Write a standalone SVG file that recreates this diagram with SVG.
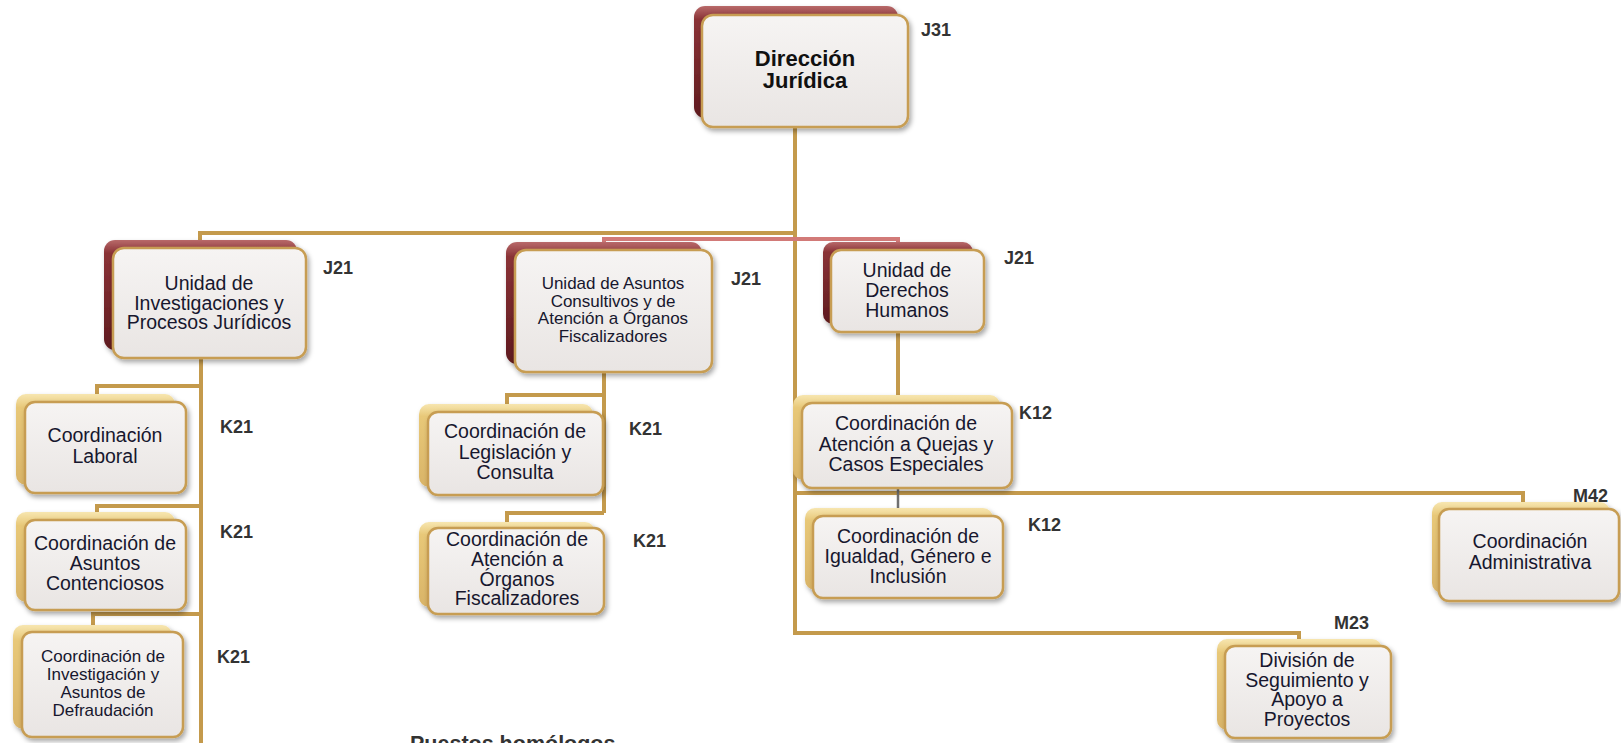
<svg xmlns="http://www.w3.org/2000/svg" width="1621" height="743" viewBox="0 0 1621 743">
<defs>
<linearGradient id="gFront" x1="0" y1="0" x2="0" y2="1">
<stop offset="0" stop-color="#f6f4f3"/>
<stop offset="1" stop-color="#e9e5e3"/>
</linearGradient>
<linearGradient id="gRed" x1="0" y1="0" x2="0" y2="1">
<stop offset="0" stop-color="#b86a6a"/>
<stop offset="0.12" stop-color="#8a3236"/>
<stop offset="1" stop-color="#5e1a1e"/>
</linearGradient>
<linearGradient id="gGold" x1="0" y1="0" x2="0" y2="1">
<stop offset="0" stop-color="#f7e6b0"/>
<stop offset="0.15" stop-color="#e8c878"/>
<stop offset="1" stop-color="#d9b468"/>
</linearGradient>
<filter id="sh" x="-10%" y="-10%" width="125%" height="130%">
<feDropShadow dx="2" dy="3" stdDeviation="2.5" flood-color="#000" flood-opacity="0.35"/>
</filter>
</defs>
<style>
.front{fill:url(#gFront);stroke:#c79d52;stroke-width:2.5}
.backJ{fill:url(#gRed)}
.backK{fill:url(#gGold)}
.t{font-family:"Liberation Sans",Arial,sans-serif;font-size:19.5px;fill:#17172e;text-anchor:middle}
.ts{font-size:17px}
.tb{font-family:"Liberation Sans",Arial,sans-serif;font-size:22px;font-weight:bold;fill:#111;text-anchor:middle}
.lbl{font-family:"Liberation Sans",Arial,sans-serif;font-size:18px;font-weight:bold;fill:#333}
.c{fill:none;stroke:#c49a4c;stroke-width:4}
.cp{fill:none;stroke:#d27a78;stroke-width:4}
.cg{fill:none;stroke:#707070;stroke-width:2.5}
</style>
<g id="connectors">
<path class="c" d="M795,127 V633 H1299 V646"/>
<path class="cp" d="M604,250 V239 H898 V250"/>
<path class="c" d="M200,242 V233 H795"/>
<path class="c" d="M201,358 V743"/>
<path class="c" d="M201,386 H97 V402"/>
<path class="c" d="M201,506 H97 V520"/>
<path class="c" d="M201,614 H93 V632"/>
<path class="c" d="M604,372 V513"/>
<path class="c" d="M604,395 H507 V412"/>
<path class="c" d="M604,513 H507 V528"/>
<path class="c" d="M898,332 V403"/>
<path class="c" d="M797,493 H1523 V509"/>
<path class="cg" d="M898,488 V516"/>
</g>
<g id="direccion-juridica">
<rect class="backJ" x="694" y="6" width="204" height="112" rx="11" filter="url(#sh)"/>
<rect class="front" x="702" y="15" width="206" height="112" rx="11" filter="url(#sh)"/>
<text class="tb"><tspan x="805" y="66">Dirección</tspan><tspan x="805" y="88">Jurídica</tspan></text>
<text class="lbl" x="921" y="36">J31</text>
</g>
<g id="unidad-investigaciones">
<rect class="backJ" x="104" y="240" width="193" height="110" rx="11" filter="url(#sh)"/>
<rect class="front" x="113" y="248" width="193" height="110" rx="11" filter="url(#sh)"/>
<text class="t"><tspan x="209" y="290">Unidad de</tspan><tspan x="209" y="309.5">Investigaciones y</tspan><tspan x="209" y="329">Procesos Jurídicos</tspan></text>
<text class="lbl" x="323" y="274">J21</text>
</g>
<g id="unidad-asuntos-consultivos">
<rect class="backJ" x="506" y="242" width="196" height="122" rx="11" filter="url(#sh)"/>
<rect class="front" x="515" y="250" width="197" height="122" rx="11" filter="url(#sh)"/>
<text class="t ts"><tspan x="613" y="289">Unidad de Asuntos</tspan><tspan x="613" y="306.5">Consultivos y de</tspan><tspan x="613" y="324">Atención a Órganos</tspan><tspan x="613" y="342">Fiscalizadores</tspan></text>
<text class="lbl" x="731" y="285">J21</text>
</g>
<g id="unidad-derechos-humanos">
<rect class="backJ" x="823" y="242" width="150" height="82" rx="10" filter="url(#sh)"/>
<rect class="front" x="831" y="250" width="153" height="82" rx="10" filter="url(#sh)"/>
<text class="t"><tspan x="907" y="277">Unidad de</tspan><tspan x="907" y="297">Derechos</tspan><tspan x="907" y="316.5">Humanos</tspan></text>
<text class="lbl" x="1004" y="264">J21</text>
</g>
<g id="coordinacion-laboral">
<rect class="backK" x="16" y="394" width="159" height="91" rx="10" filter="url(#sh)"/>
<rect class="front" x="25" y="402" width="161" height="91" rx="10" filter="url(#sh)"/>
<text class="t"><tspan x="105" y="442">Coordinación</tspan><tspan x="105" y="463">Laboral</tspan></text>
<text class="lbl" x="220" y="433">K21</text>
</g>
<g id="coordinacion-contenciosos">
<rect class="backK" x="16" y="512" width="159" height="90" rx="10" filter="url(#sh)"/>
<rect class="front" x="25" y="520" width="161" height="90" rx="10" filter="url(#sh)"/>
<text class="t"><tspan x="105" y="550">Coordinación de</tspan><tspan x="105" y="570">Asuntos</tspan><tspan x="105" y="590">Contenciosos</tspan></text>
<text class="lbl" x="220" y="538">K21</text>
</g>
<g id="coordinacion-defraudacion">
<rect class="backK" x="13" y="625" width="159" height="104" rx="10" filter="url(#sh)"/>
<rect class="front" x="22" y="632" width="161" height="105" rx="10" filter="url(#sh)"/>
<text class="t ts"><tspan x="103" y="662">Coordinación de</tspan><tspan x="103" y="680">Investigación y</tspan><tspan x="103" y="698">Asuntos de</tspan><tspan x="103" y="715.5">Defraudación</tspan></text>
<text class="lbl" x="217" y="663">K21</text>
</g>
<g id="coordinacion-legislacion">
<rect class="backK" x="419" y="404" width="174" height="83" rx="10" filter="url(#sh)"/>
<rect class="front" x="428" y="412" width="175" height="83" rx="10" filter="url(#sh)"/>
<text class="t"><tspan x="515" y="438">Coordinación de</tspan><tspan x="515" y="459">Legislación y</tspan><tspan x="515" y="479">Consulta</tspan></text>
<text class="lbl" x="629" y="435">K21</text>
</g>
<g id="coordinacion-organos">
<rect class="backK" x="419" y="522" width="176" height="85" rx="10" filter="url(#sh)"/>
<rect class="front" x="428" y="528" width="176" height="86" rx="10" filter="url(#sh)"/>
<text class="t"><tspan x="517" y="546">Coordinación de</tspan><tspan x="517" y="566">Atención a</tspan><tspan x="517" y="585.5">Órganos</tspan><tspan x="517" y="605">Fiscalizadores</tspan></text>
<text class="lbl" x="633" y="547">K21</text>
</g>
<g id="coordinacion-quejas">
<rect class="backK" x="793" y="395" width="207" height="85" rx="10" filter="url(#sh)"/>
<rect class="front" x="802" y="403" width="210" height="85" rx="10" filter="url(#sh)"/>
<text class="t"><tspan x="906" y="430">Coordinación de</tspan><tspan x="906" y="451">Atención a Quejas y</tspan><tspan x="906" y="471">Casos Especiales</tspan></text>
<text class="lbl" x="1019" y="419">K12</text>
</g>
<g id="coordinacion-igualdad">
<rect class="backK" x="805" y="508" width="188" height="82" rx="10" filter="url(#sh)"/>
<rect class="front" x="813" y="516" width="190" height="82" rx="10" filter="url(#sh)"/>
<text class="t"><tspan x="908" y="543">Coordinación de</tspan><tspan x="908" y="563">Igualdad, Género e</tspan><tspan x="908" y="582.5">Inclusión</tspan></text>
<text class="lbl" x="1028" y="531">K12</text>
</g>
<g id="coordinacion-administrativa">
<rect class="backK" x="1432" y="502" width="178" height="91" rx="10" filter="url(#sh)"/>
<rect class="front" x="1439" y="509" width="180" height="92" rx="10" filter="url(#sh)"/>
<text class="t"><tspan x="1530" y="548">Coordinación</tspan><tspan x="1530" y="569">Administrativa</tspan></text>
<text class="lbl" x="1608" y="502" text-anchor="end">M42</text>
</g>
<g id="division-seguimiento">
<rect class="backK" x="1217" y="639" width="165" height="91" rx="10" filter="url(#sh)"/>
<rect class="front" x="1225" y="646" width="166" height="92" rx="10" filter="url(#sh)"/>
<text class="t"><tspan x="1307" y="667">División de</tspan><tspan x="1307" y="686.5">Seguimiento y</tspan><tspan x="1307" y="706">Apoyo a</tspan><tspan x="1307" y="725.5">Proyectos</tspan></text>
<text class="lbl" x="1334" y="629">M23</text>
</g>
<text class="lbl" x="410" y="751" style="font-size:21.5px">Puestos homólogos</text>
</svg>
